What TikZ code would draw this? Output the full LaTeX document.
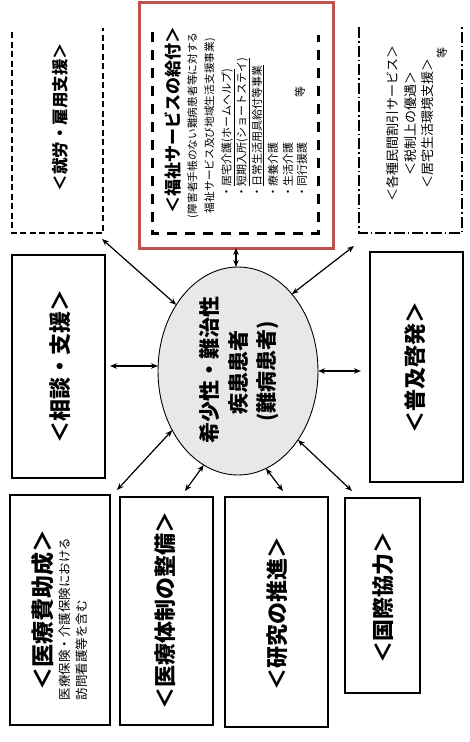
\documentclass[tikz,border=0pt]{standalone}
\usepackage{fontspec}
\newfontfamily\jp{Noto Sans CJK JP}
\usetikzlibrary{shapes.geometric,arrows.meta}
\definecolor{redframe}{RGB}{192,80,77}
\begin{document}
\begin{tikzpicture}[x=1pt,y=-1pt,
  every node/.style={font=\jp, inner sep=0pt, outer sep=0pt},
  vtext/.style={rotate=90},
  hbig/.style={font=\jp\bfseries\fontsize{22pt}{26pt}\selectfont},
  hmid/.style={font=\jp\bfseries\fontsize{16.5pt}{20pt}\selectfont},
  hell/.style={font=\jp\bfseries\fontsize{21pt}{25pt}\selectfont},
  tsmall/.style={font=\jp\fontsize{10.7pt}{13pt}\selectfont},
  titem/.style={font=\jp\fontsize{11pt}{13pt}\selectfont},
  tright/.style={font=\jp\fontsize{13pt}{15pt}\selectfont},
  tnote/.style={font=\jp\fontsize{12.5pt}{15pt}\selectfont},
  boxline/.style={draw=black, line width=2pt},
  dashA/.style={draw=black, line width=1.3pt, dash pattern=on 6pt off 3.5pt},
  dashB/.style={draw=black, line width=3pt, dash pattern=on 10pt off 8pt},
  dashC/.style={draw=black, line width=1.5pt, dash pattern=on 11pt off 3pt on 1.5pt off 3pt},
  conn/.style={{Stealth[length=7pt,width=5.5pt]}-{Stealth[length=7pt,width=5.5pt]}, line width=1.2pt},
]
\useasboundingbox (0,0) rectangle (469,742);

% ---- upper row (open-topped frames) ----
\draw[dashA] (12,32) -- (12,233) -- (103,233) -- (103,28);
\node[vtext, hmid] (shuroT) at (60,117) {＜就労・雇用支援＞};

\node[draw=redframe, line width=3pt, minimum width=194pt, minimum height=246pt] (fukushi) at (236,125) {};
\draw[dashB] (152,32) -- (152,233) -- (318,233) -- (318,35);
\node[vtext, font=\jp\bfseries\fontsize{17pt}{20pt}\selectfont] (fT) at (173,120) {＜福祉サービスの給付＞};
\node[vtext, tsmall, anchor=west] (f2) at (193,218) {(障害者手帳のない難病患者等に対する};
\node[vtext, tsmall, anchor=west] (f3) at (210,213) {福祉サービス及び地域生活支援事業)};
\node[vtext, titem, anchor=west] (i1) at (228,197) {・\underline{居宅介護(ホームヘルプ)}};
\node[vtext, titem, anchor=west] (i2) at (243,197) {・\underline{短期入所(ショートステイ)}};
\node[vtext, titem, anchor=west] (i3) at (258,197) {・\underline{日常生活用具給付等事業}};
\node[vtext, titem, anchor=west] (i4) at (273,197) {・療養介護};
\node[vtext, titem, anchor=west] (i5) at (288,197) {・生活介護};
\node[vtext, titem, anchor=west] (i6) at (302,197) {・同行援護};
\node[vtext, titem] (fEtc) at (300,92) {等};

\draw[dashC] (359,27) -- (359,233) -- (462,233) -- (462,27);
\node[vtext, tright] (r1) at (393,123) {＜各種民間割引サービス＞};
\node[vtext, tright] (r2) at (411,123) {＜税制上の優遇＞};
\node[vtext, tright] (r3) at (428,123) {＜居宅生活環境支援＞};
\node[vtext, titem] (rEtc) at (442,53) {等};

% ---- middle row ----
\node[boxline, minimum width=93pt, minimum height=223pt] (soudan) at (58.5,366.5) {};
\node[vtext, hbig] (soudanT) at (60,366) {＜相談・支援＞};

\node[ellipse, draw=black, line width=0.9pt, fill=black!9, minimum width=160pt, minimum height=208pt] (ell) at (238,371) {};
\node[vtext, hell] (e1) at (210,370) {希少性・難治性};
\node[vtext, hell] (e2) at (239,372) {疾患患者};
\node[vtext, hell] (e3) at (268,371) {(難病患者)};

\node[boxline, minimum width=93pt, minimum height=230pt] (fukyu) at (416.5,367) {};
\node[vtext, hbig] (fukyuT) at (415,367) {＜普及啓発＞};

% ---- lower row ----
\node[boxline, minimum width=100pt, minimum height=230pt] (iryohi) at (60,610) {};
\node[vtext, font=\jp\bfseries\fontsize{23pt}{27pt}\selectfont] (iryohiT) at (43,610) {＜医療費助成＞};
\node[vtext, tnote, anchor=west] (n1) at (65,700) {医療保険・介護保険における};
\node[vtext, tnote, anchor=west] (n2) at (82,700) {訪問看護等を含む};

\node[boxline, minimum width=93pt, minimum height=228pt] (taisei) at (166.5,611) {};
\node[vtext, hbig] (taiseiT) at (165,610) {＜医療体制の整備＞};

\node[boxline, minimum width=103pt, minimum height=230pt] (kenkyu) at (276.5,612) {};
\node[vtext, hbig] (kenkyuT) at (277,613) {＜研究の推進＞};

\node[boxline, minimum width=75pt, minimum height=195pt] (kokusai) at (382.5,595.5) {};
\node[vtext, hbig] (kokusaiT) at (383,597) {＜国際協力＞};

% ---- connectors ----
\coordinate (c1) at (102,239);
\coordinate (c3) at (354,246);
\coordinate (c4) at (110,366);
\coordinate (c5) at (361,371);
\coordinate (c6) at (117,490);
\coordinate (c7) at (185,491);
\coordinate (c8) at (283,491);
\coordinate (c9) at (352,491);

\draw[conn] (c1) -- (ell.133);
\draw[conn] (fukushi.south) -- (fukushi.south |- ell.north);
\draw[conn] (c3) -- (ell.55);
\draw[conn] (c4) -- (c4 -| ell.west);
\draw[conn] (ell.east) -- (c5);
\draw[conn] (c6) -- (ell.222);
\draw[conn] (c7) -- (ell.250);
\draw[conn] (c8) -- (ell.286);
\draw[conn] (c9) -- (ell.311);
\end{tikzpicture}
\end{document}
